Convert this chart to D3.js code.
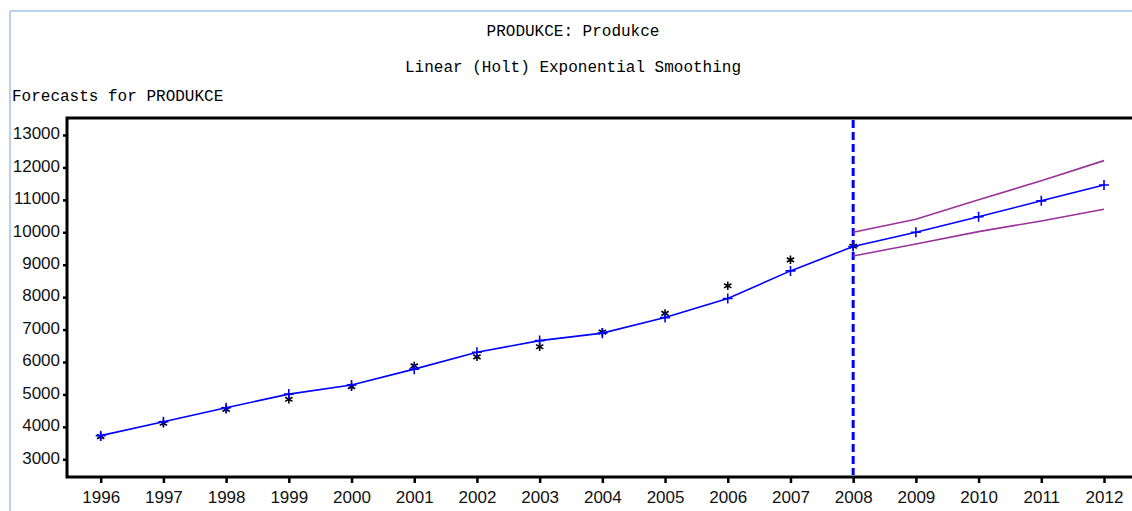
<!DOCTYPE html>
<html>
<head>
<meta charset="utf-8">
<script src="https://cdn.jsdelivr.net/npm/d3@7"></script>
<style>
  html, body { margin: 0; padding: 0; background: #fff; }
  svg { display: block; }
</style>
</head>
<body>
<svg id="chart" width="1132" height="511"></svg>
<script>
// Years on the time axis
const years = [1996, 1997, 1998, 1999, 2000, 2001, 2002, 2003, 2004, 2005, 2006, 2007, 2008, 2009, 2010, 2011, 2012];
// Observed PRODUKCE values (1996–2008)
const actualYears = [1996, 1997, 1998, 1999, 2000, 2001, 2002, 2003, 2004, 2005, 2006, 2007, 2008];
const actual = [3700, 4110, 4540, 4850, 5240, 5880, 6160, 6470, 6920, 7500, 8350, 9150, 9570];
// Holt smoothed / forecast values
const forecast = [3730, 4160, 4590, 5010, 5290, 5780, 6300, 6660, 6890, 7370, 7960, 8810, 9560, 10000, 10480, 10970, 11460];
// Forecast interval limits (2008–2012)
const boundYears = [2008, 2009, 2010, 2011, 2012];
const upper = [10000, 10400, 11000, 11590, 12210];
const lower = [9270, 9640, 10020, 10350, 10710];
// Y axis tick labels
const yTicks = [3000, 4000, 5000, 6000, 7000, 8000, 9000, 10000, 11000, 12000, 13000];
const forecastStart = 2008;

const svg = d3.select("#chart");

// Window edge lines
svg.append("line").attr("x1", 10).attr("x2", 10).attr("y1", 11).attr("y2", 511)
  .attr("stroke", "#9fc2ea").attr("stroke-width", 1.5);
svg.append("line").attr("x1", 10).attr("x2", 1132).attr("y1", 11).attr("y2", 11)
  .attr("stroke", "#9fc2ea").attr("stroke-width", 1.5);

const monoFont = "'Liberation Mono', 'DejaVu Sans Mono', monospace";
const sansFont = "'Liberation Sans', Arial, sans-serif";

// Titles
svg.append("text").attr("x", 573).attr("y", 36).attr("text-anchor", "middle")
  .attr("font-family", monoFont).attr("font-size", 16).attr("fill", "#000")
  .text("PRODUKCE: Produkce");
svg.append("text").attr("x", 573).attr("y", 72).attr("text-anchor", "middle")
  .attr("font-family", monoFont).attr("font-size", 16).attr("fill", "#000")
  .text("Linear (Holt) Exponential Smoothing");
svg.append("text").attr("x", 12).attr("y", 101)
  .attr("font-family", monoFont).attr("font-size", 16).attr("fill", "#000")
  .text("Forecasts for PRODUKCE");

// Plot frame
const frame = { left: 67, top: 118, right: 1145, bottom: 477 };

const x = d3.scaleLinear().domain([1996, 2012]).range([100.7, 1104]);
const y = d3.scaleLinear().domain([3000, 13000]).range([459.3, 135]);

// Axes
const yAxis = d3.axisLeft(y).tickValues(yTicks).tickSize(4).tickPadding(3).tickFormat(d3.format("d"));
const gy = svg.append("g").attr("transform", `translate(${frame.left},0)`).call(yAxis);
gy.select(".domain").remove();
gy.selectAll(".tick line").attr("stroke", "#000").attr("stroke-width", 2.5);
gy.selectAll(".tick text").attr("font-family", sansFont).attr("font-size", 17)
  .attr("fill", "#111").attr("dy", "0.22em");

const xAxis = d3.axisBottom(x).tickValues(years).tickSize(6).tickPadding(8).tickFormat(d3.format("d"));
const gx = svg.append("g").attr("transform", `translate(0,${frame.bottom})`).call(xAxis);
gx.select(".domain").remove();
gx.selectAll(".tick line").attr("stroke", "#000").attr("stroke-width", 2.5);
gx.selectAll(".tick text").attr("font-family", sansFont).attr("font-size", 17).attr("fill", "#111");

// Frame: left, top and bottom edges
svg.append("path")
  .attr("d", `M${frame.right},${frame.top}H${frame.left}V${frame.bottom}H${frame.right}`)
  .attr("fill", "none").attr("stroke", "#000").attr("stroke-width", 3);

// Forecast start marker
svg.append("line")
  .attr("x1", x(forecastStart)).attr("x2", x(forecastStart))
  .attr("y1", frame.top + 2).attr("y2", frame.bottom - 2)
  .attr("stroke", "#0000ff").attr("stroke-width", 3).attr("stroke-dasharray", "8,4");

const line = d3.line().x(d => x(d[0])).y(d => y(d[1]));

// Interval bounds
[upper, lower].forEach(arr => {
  svg.append("path")
    .datum(boundYears.map((yr, i) => [yr, arr[i]]))
    .attr("d", line).attr("fill", "none")
    .attr("stroke", "#993399").attr("stroke-width", 1.6);
});

// Observed values as asterisks
const star = d3.symbol().type(d3.symbolAsterisk).size(50);
svg.append("g").selectAll("path")
  .data(actualYears.map((yr, i) => [yr, actual[i]]))
  .join("path")
  .attr("transform", d => `translate(${x(d[0])},${y(d[1])})`)
  .attr("d", star).attr("fill", "none").attr("stroke", "#000").attr("stroke-width", 1.6);

// Forecast line with plus markers
const fData = years.map((yr, i) => [yr, forecast[i]]);
svg.append("path").datum(fData).attr("d", line).attr("fill", "none")
  .attr("stroke", "#0000ff").attr("stroke-width", 1.6);
const plus = d3.symbol().type(d3.symbolPlus).size(0);
svg.append("g").selectAll("path")
  .data(fData)
  .join("path")
  .attr("d", d => `M${x(d[0]) - 5},${y(d[1])}h10M${x(d[0])},${y(d[1]) - 5}v10`)
  .attr("fill", "none").attr("stroke", "#0000ff").attr("stroke-width", 1.6);
</script>
</body>
</html>
